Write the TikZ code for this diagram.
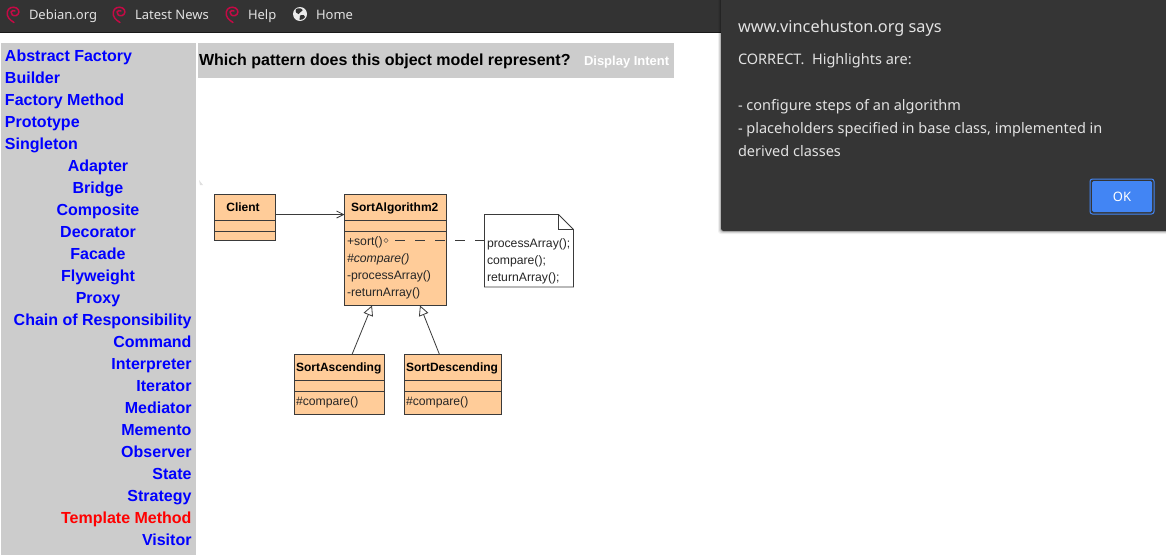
\documentclass[tikz,border=0pt]{standalone}
\usepackage{fontspec}
\setmainfont{Liberation Sans}
\newfontfamily\uifont{Noto Sans}
\usetikzlibrary{arrows.meta,shapes.geometric}
\definecolor{barc}{HTML}{333333}
\definecolor{dlgc}{HTML}{353535}
\definecolor{sidec}{HTML}{CCCCCC}
\definecolor{umlc}{HTML}{FFCC99}
\definecolor{linec}{HTML}{3A3A3A}
\definecolor{uitext}{HTML}{E2E2E2}
\definecolor{swirlc}{HTML}{C40A45}
\definecolor{btnc}{HTML}{4285F4}
\tikzset{
  txt/.style={inner sep=0pt,outer sep=0pt,anchor=base west},
  navtxt/.style={txt,font=\uifont\fontsize{13}{13}\selectfont,text=uitext},
  dlgtxt/.style={txt,font=\uifont\fontsize{14.5}{14.5}\selectfont,text=uitext},
  sidetxt/.style={inner sep=0pt,outer sep=0pt,font=\bfseries\fontsize{16}{16}\selectfont,text=blue},
  umlbox/.style={draw=linec,fill=umlc,line width=0.9pt,inner sep=0pt,outer sep=0pt,anchor=north west},
  umltxt/.style={txt,font=\fontsize{12.2}{12.2}\selectfont,text=black!85},
  umlhead/.style={txt,font=\bfseries\fontsize{12}{12}\selectfont,text=black},
  conn/.style={draw=linec,line width=0.8pt},
  swirlpic/.pic={
    \draw[swirlc,line width=1.5pt,line cap=round]
      (1,8.5) .. controls (-3,6) and (-6.5,3) .. (-5.7,-2)
      .. controls (-5,-6.5) and (0,-7.8) .. (3.5,-6)
      .. controls (7,-4) and (6.5,0.5) .. (3,1.6)
      .. controls (0,2.4) and (-2.4,0) .. (-1.9,-2)
      .. controls (-1.5,-3.5) and (0.5,-3.8) .. (2,-3);
  }
}
\begin{document}
\begin{tikzpicture}[x=1pt,y=-1pt]
\useasboundingbox (0,0) rectangle (1166,555);
\fill[white] (0,0) rectangle (1166,555);
% top bar
\fill[barc] (0,0) rectangle (1166,32);
\fill[black!90] (0,32) rectangle (1166,33);
\pic at (13,14) {swirlpic};
\pic at (119,14) {swirlpic};
\pic at (232,14) {swirlpic};
\fill[white!92!black] (300,14) circle (7);
\fill[barc] (296,9) .. controls (299,7.5) and (303,8.5) .. (302.5,10.5) .. controls (302,12.5) and (298.5,12) .. (298.5,14) .. controls (296.5,14) and (295,12) .. (296,9) -- cycle;
\fill[barc] (300,15.5) .. controls (303,14.5) and (305.5,15) .. (305,17) .. controls (304,19) and (302,20) .. (299.5,20) .. controls (300.5,18.5) and (299,17) .. (300,15.5) -- cycle;
\node[navtxt] (nav1) at (29,19) {Debian.org};
\node[navtxt] (nav2) at (135,19) {Latest News};
\node[navtxt] (nav3) at (248,19) {Help};
\node[navtxt] (nav4) at (316,19) {Home};
% side and header panels
\fill[sidec] (1,43) rectangle (196,555);
\fill[sidec] (198,43) rectangle (674,78);
\foreach \n/\y/\t in {1/61/Abstract Factory,2/83/Builder,3/105/Factory Method,4/127/Prototype,5/149/Singleton}
  \node[sidetxt,anchor=base west] (sl\n) at (5,\y) {\t};
\foreach \n/\y/\t in {1/171/Adapter,2/193/Bridge,3/215/Composite,4/237/Decorator,5/259/Facade,6/281/Flyweight,7/303/Proxy}
  \node[sidetxt,anchor=base] (sc\n) at (98,\y) {\t};
\foreach \n/\y/\t in {1/325/Chain of Responsibility,2/347/Command,3/369/Interpreter,4/391/Iterator,5/413/Mediator,6/435/Memento,7/457/Observer,8/479/State,9/501/Strategy,11/545/Visitor}
  \node[sidetxt,anchor=base east] (sr\n) at (191.5,\y) {\t};
\node[sidetxt,anchor=base east,text=red] (sr10) at (191.5,523) {Template Method};
\node[txt,font=\bfseries\fontsize{16}{16}\selectfont,text=black] (question) at (199,65) {Which pattern does this object model represent?};
\node[txt,font=\bfseries\fontsize{13}{13}\selectfont,text=white] (intent) at (584,65) {Display Intent};
\fill[black!12] (199,180) -- (203,185) -- (200,185) -- cycle;
% UML classes
\node[umlbox,minimum width=60.5pt,minimum height=46pt] (client) at (214.5,194.5) {};
\node[umlbox,minimum width=102pt,minimum height=111pt] (algo) at (344.5,194.5) {};
\node[umlbox,minimum width=90pt,minimum height=60pt] (asc) at (294.5,354.5) {};
\node[umlbox,minimum width=97pt,minimum height=60pt] (desc) at (404.5,354.5) {};
\draw[conn] (client.west |- 0,220.5) -- (client.east |- 0,220.5) (client.west |- 0,231.5) -- (client.east |- 0,231.5);
\draw[conn] (algo.west |- 0,220.5) -- (algo.east |- 0,220.5) (algo.west |- 0,231.5) -- (algo.east |- 0,231.5);
\draw[conn] (asc.west |- 0,380.5) -- (asc.east |- 0,380.5) (asc.west |- 0,391.5) -- (asc.east |- 0,391.5);
\draw[conn] (desc.west |- 0,380.5) -- (desc.east |- 0,380.5) (desc.west |- 0,391.5) -- (desc.east |- 0,391.5);
\node[umlhead,anchor=base] (clientt) at (243,211) {Client};
\node[umlhead] (algot) at (351,211) {SortAlgorithm2};
\node[umlhead] (asct) at (296,371) {SortAscending};
\node[umlhead] (desct) at (406,371) {SortDescending};
\node[umltxt] (m1) at (347,245) {+sort()};
\node[umltxt,font=\itshape\fontsize{12.2}{12.2}\selectfont] (m2) at (347,262) {\#compare()};
\node[umltxt] (m3) at (347,279) {-processArray()};
\node[umltxt] (m4) at (347,296) {-returnArray()};
\node[umltxt] (m5) at (296,405) {\#compare()};
\node[umltxt] (m6) at (406,405) {\#compare()};
% note
\node[inner sep=0pt,outer sep=0pt,anchor=north west,minimum width=89pt,minimum height=72.5pt] (note) at (484.5,214.5) {};
\draw[conn,fill=white] (note.north west) -- ([xshift=-15pt]note.north east) -- ([yshift=-15pt]note.north east) -- (note.south east) -- (note.south west) -- cycle;
\draw[conn,line width=0.7pt] ([xshift=-15pt]note.north east) -- ([xshift=-15pt,yshift=-15pt]note.north east) -- ([yshift=-15pt]note.north east);
\node[umltxt] (n1) at (487,247) {processArray();};
\node[umltxt] (n2) at (487,264) {compare();};
\node[umltxt] (n3) at (487,281) {returnArray();};
% connectors
\draw[conn,-{Straight Barb[length=7pt,width=7pt]}] ([yshift=3pt]client.east) -- ([yshift=35.5pt]algo.west);
\node[diamond,draw=linec,line width=0.4pt,inner sep=0pt,minimum width=4.5pt,minimum height=4.5pt] (dia) at (386,240.5) {};
\coordinate (dashstart) at (395,240.5);
\draw[conn,dash pattern=on 9.5pt off 10.5pt] (dashstart) -- (note.west |- dashstart);
\draw[conn,-{Triangle[open,length=10pt,width=10pt,fill=white]}] ([xshift=12.5pt]asc.north) -- ([xshift=-23.5pt]algo.south);
\draw[conn,-{Triangle[open,length=10pt,width=10pt,fill=white]}] ([xshift=-13.5pt]desc.north) -- ([xshift=24.5pt]algo.south);
% dialog
\foreach \o/\a in {3/0.06,2/0.10,1/0.16}
  \fill[black,opacity=\a,rounded corners=3pt] (721-\o,-8) rectangle (1175,231+\o);
\fill[dlgc,rounded corners=2.5pt] (721,-8) rectangle (1175,231);
\node[txt,font=\uifont\fontsize{16.3}{16.3}\selectfont,text=uitext] (dlgtitle) at (738,32) {www.vincehuston.org says};
\node[dlgtxt] (d1) at (738,64) {CORRECT.\ \ Highlights are:};
\node[dlgtxt] (d2) at (738,110) {- configure steps of an algorithm};
\node[dlgtxt] (d3) at (738,133) {- placeholders specified in base class, implemented in};
\node[dlgtxt] (d4) at (738,156) {derived classes};
\node[draw=btnc,fill=dlgc,line width=1pt,rounded corners=2.5pt,minimum width=64pt,minimum height=35pt,inner sep=0pt,outer sep=0pt,anchor=north west] (okring) at (1090,179) {};
\node[fill=btnc,rounded corners=1.5pt,minimum width=60pt,minimum height=31pt,inner sep=0pt,outer sep=0pt] (okbtn) at (okring.center) {};
\node[txt,anchor=base,font=\uifont\fontsize{13}{13}\selectfont,text=white] (ok) at (1122,201) {OK};
\end{tikzpicture}
\end{document}
